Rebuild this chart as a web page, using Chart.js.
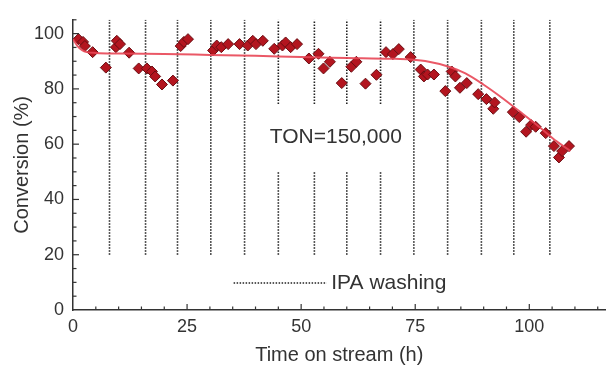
<!DOCTYPE html>
<html>
<head>
<meta charset="utf-8">
<script src="https://cdn.jsdelivr.net/npm/chart.js@4.4.0/dist/chart.umd.min.js"></script>
<style>
  html, body { margin: 0; padding: 0; background: #fff; }
  #wrap { width: 612px; height: 369px; }
</style>
</head>
<body>
<div id="wrap"><canvas id="myChart" width="612" height="369"></canvas></div>
<script>
// Measured conversion (%) vs time on stream (h)
const timeOnStream = [
  1.2, 2.2, 2.6, 4.3, 7.2, 9.4, 9.6, 10.3, 12.3, 14.4, 16.2, 17.3, 18.0, 19.5, 21.9,
  23.6, 24.3, 25.2, 30.7, 31.5, 32.5, 34.0, 36.5, 38.3, 39.4, 40.1, 41.6, 44.1,
  45.9, 46.6, 47.7, 49.1, 51.7, 53.8, 54.9, 56.3, 58.9, 61.0, 62.1, 64.1, 66.5,
  68.6, 70.1, 71.4, 74.0, 76.2, 76.9, 77.7, 79.1, 81.6, 83.0, 83.8, 84.8, 86.3,
  88.8, 90.6, 92.1, 92.4, 96.4, 97.8, 99.3, 100.4, 101.4, 103.6, 105.4, 106.5,
  107.2, 108.7
];
const conversion = [
  98.0, 97.0, 95.5, 93.3, 87.7, 95.1, 97.4, 96.2, 93.1, 87.4, 87.4, 86.3, 84.5, 81.6, 83.0,
  95.5, 97.0, 98.0, 93.9, 95.7, 95.1, 96.2, 96.2, 95.7, 97.4, 96.2, 97.4, 94.5,
  95.7, 96.8, 95.1, 96.2, 91.0, 92.7, 87.4, 89.8, 82.1, 88.0, 89.8, 81.9, 85.1,
  93.3, 92.6, 94.4, 91.5, 87.0, 84.5, 85.2, 85.2, 79.2, 86.3, 84.5, 80.4, 82.1,
  78.1, 76.3, 72.8, 75.1, 71.6, 69.8, 64.5, 66.9, 66.3, 64.0, 59.3, 55.2,
  57.5, 59.3
];

// Fitted trend line
const fitTime = [0, 1, 2, 3, 5, 10, 20, 30, 40, 50, 60, 70, 74, 78, 82, 86, 90, 94, 98, 102, 106, 109];
const fitConversion = [98, 95.5, 94, 93.3, 93, 92.8, 92.6, 92.3, 92, 91.5, 91.2, 90.9, 90.6, 89.8, 88.2, 85.6, 81.5, 76.8, 71.7, 66.5, 61, 57.5];

// IPA washing times (h)
const washTimes = [8.0, 15.9, 22.9, 30.2, 37.6, 45.0, 52.9, 60.0, 67.4, 74.7, 82.1, 89.5, 96.6, 104.5];
const brokenWash = [45.0, 52.9, 60.0, 67.4];

const xTicks = [0, 25, 50, 75, 100];
const yTicks = [0, 20, 40, 60, 80, 100];

const textColor = "#333";
const axisColor = "#333";
const dotColor = "#222";
const fontFamily = "'Liberation Sans', Arial, sans-serif";
const xMax = 116.7;
const yMax = 105;

// vertical dotted washing lines, nulls split segments
const washLow = 20;
const gapLow = 50;
const gapHigh = 74.5;
const washPoints = [];
washTimes.forEach((t) => {
  if (brokenWash.includes(t)) {
    washPoints.push({ x: t, y: washLow }, { x: t, y: gapLow }, { x: t, y: null });
    washPoints.push({ x: t, y: gapHigh }, { x: t, y: yMax }, { x: t, y: null });
  } else {
    washPoints.push({ x: t, y: washLow }, { x: t, y: yMax }, { x: t, y: null });
  }
});

// inward ticks, legend and annotation
const extras = {
  id: "extras",
  afterDraw(chart) {
    const ctx = chart.ctx;
    const xs = chart.scales.x;
    const ys = chart.scales.y;
    const area = chart.chartArea;
    ctx.save();
    ctx.strokeStyle = axisColor;
    ctx.lineWidth = 1.2;
    for (let v = 5; v <= xMax; v += 5) {
      const px = xs.getPixelForValue(v);
      const len = v % 25 === 0 ? 6 : 3.5;
      ctx.beginPath();
      ctx.moveTo(px, area.bottom);
      ctx.lineTo(px, area.bottom - len);
      ctx.stroke();
    }
    for (let v = 5; v <= yMax; v += 5) {
      const py = ys.getPixelForValue(v);
      const len = v % 20 === 0 ? 6 : 3.5;
      ctx.beginPath();
      ctx.moveTo(area.left, py);
      ctx.lineTo(area.left + len, py);
      ctx.stroke();
    }

    // legend
    const ly = ys.getPixelForValue(9.8);
    ctx.strokeStyle = dotColor;
    ctx.lineWidth = 1.5;
    ctx.setLineDash([1.5, 1.5]);
    ctx.beginPath();
    ctx.moveTo(xs.getPixelForValue(35.2), ly);
    ctx.lineTo(xs.getPixelForValue(55.6), ly);
    ctx.stroke();
    ctx.setLineDash([]);
    ctx.fillStyle = textColor;
    ctx.font = "21px " + fontFamily;
    ctx.textBaseline = "middle";
    ctx.textAlign = "left";
    ctx.fillText("IPA washing", xs.getPixelForValue(56.6), ly);

    ctx.font = "21px " + fontFamily;
    ctx.textAlign = "center";
    ctx.fillText("TON=150,000", xs.getPixelForValue(57.6), ys.getPixelForValue(62.5));
    ctx.restore();
  },
};

const ctx = document.getElementById("myChart");
const myChart = new Chart(ctx, {
  type: "scatter",
  data: {
    datasets: [
      {
        label: "Fit",
        type: "line",
        data: fitTime.map((t, i) => ({ x: t, y: fitConversion[i] })),
        borderColor: "rgba(232, 70, 85, 0.9)",
        borderWidth: 2,
        pointRadius: 0,
        cubicInterpolationMode: "monotone",
        fill: false,
        order: 0,
      },
      {
        label: "Conversion",
        data: timeOnStream.map((t, i) => ({ x: t, y: conversion[i] })),
        pointStyle: "rectRot",
        pointRadius: 5.5,
        backgroundColor: "#b3151f",
        borderColor: "#6a0d12",
        borderWidth: 1,
        order: 1,
      },
      {
        label: "IPA washing",
        type: "line",
        data: washPoints,
        borderColor: dotColor,
        borderWidth: 1.6,
        borderDash: [1.5, 1.5],
        pointRadius: 0,
        spanGaps: false,
        tension: 0,
        fill: false,
        order: 2,
      },
    ],
  },
  options: {
    responsive: false,
    animation: false,
    devicePixelRatio: 1,
    layout: { padding: { top: 12, right: 0, left: 0, bottom: 0 } },
    plugins: {
      legend: { display: false },
      tooltip: { enabled: false },
    },
    scales: {
      x: {
        type: "linear",
        min: 0,
        max: xMax,
        afterBuildTicks: (s) => { s.ticks = xTicks.map((v) => ({ value: v })); },
        afterFit: (s) => { s.height = 59; },
        ticks: {
          color: textColor,
          font: { size: 18, family: fontFamily },
          padding: 6,
          maxRotation: 0,
          autoSkip: false,
        },
        grid: { display: true, drawOnChartArea: false, drawTicks: false },
        border: { display: true, color: axisColor, width: 1.5 },
        title: {
          display: true,
          text: "Time on stream (h)",
          color: textColor,
          font: { size: 20, family: fontFamily },
          padding: { top: 0, bottom: 2 },
        },
      },
      y: {
        type: "linear",
        min: 0,
        max: yMax,
        afterBuildTicks: (s) => { s.ticks = yTicks.map((v) => ({ value: v })); },
        afterFit: (s) => { s.width = 73; },
        ticks: {
          color: textColor,
          font: { size: 18, family: fontFamily },
          padding: 9,
          autoSkip: false,
        },
        grid: { display: true, drawOnChartArea: false, drawTicks: false },
        border: { display: true, color: axisColor, width: 1.5 },
        title: {
          display: true,
          text: "Conversion (%)",
          color: textColor,
          font: { size: 20, family: fontFamily },
          padding: { top: 10, bottom: 0 },
        },
      },
    },
  },
  plugins: [extras],
});
</script>
</body>
</html>
